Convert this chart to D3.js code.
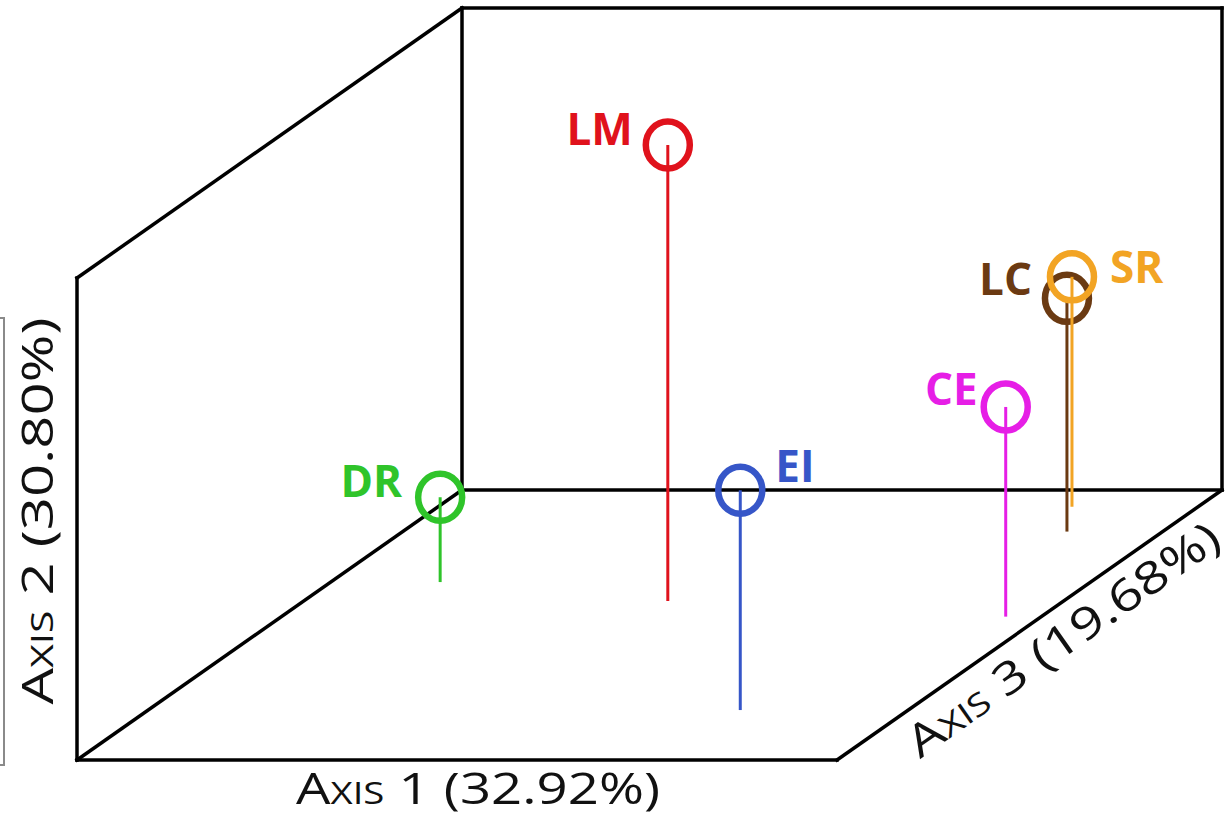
<!DOCTYPE html>
<html>
<head>
<meta charset="utf-8">
<script src="https://cdn.jsdelivr.net/npm/d3@7"></script>
<style>
  html, body { margin: 0; padding: 0; background: #fff; }
  svg { display: block; }
</style>
</head>
<body>
<svg id="chart" width="1229" height="818"></svg>
<script>
// Ordination scores of each site on the first three axes
const sites  = ["DR", "LM", "EI", "CE", "LC", "SR"];
const axis1  = [-0.356, -0.021, 0.279, 0.453, 0.374, 0.334];
const axis2  = [-0.324, 0.446, -0.044, -0.065, -0.016, -0.023];
const axis3  = [0.159, 0.089, -0.315, 0.031, 0.346, 0.438];
const colors = ["#2fc42a", "#e0121c", "#3656c8", "#e61ee6", "#6b3a12", "#f2a424"];
const axisTitles = ["Axis 1 (32.92%)", "Axis 2 (30.80%)", "Axis 3 (19.68%)"];

// label placement relative to each point: [dx, dy, anchor]
const labelPos = [
  [-38, 0, "end"], [-35, 0, "end"], [35, -8, "start"],
  [-28, -2, "end"], [-35, -3, "end"], [38, 6, "start"]
];

const svg = d3.select("#chart");
const W = 760, H = 482, DX = 385, DY = -270, OX = 77, OY = 760;

const xs = d3.scaleLinear().domain([-0.5, 0.5]).range([0, W]);
const ys = d3.scaleLinear().domain([-0.5, 0.5]).range([0, H]);
const zs = d3.scaleLinear().domain([-0.5, 0.5]).range([0, 1]);

// oblique projection of a 3D score onto the page
function project(a, b, c) {
  return [OX + xs(a) + zs(c) * DX, OY - ys(b) + zs(c) * DY];
}

const lo = -0.5, hi = 0.5;
const edges = [
  [[lo, lo, lo], [lo, hi, lo]],   // front left vertical
  [[lo, lo, lo], [hi, lo, lo]],   // front bottom
  [[lo, hi, lo], [lo, hi, hi]],   // upper left depth edge
  [[lo, lo, lo], [lo, lo, hi]],   // lower left depth edge
  [[hi, lo, lo], [hi, lo, hi]],   // lower right depth edge
  [[lo, hi, hi], [hi, hi, hi]],   // back top
  [[lo, lo, hi], [lo, hi, hi]],   // back left
  [[lo, lo, hi], [hi, lo, hi]],   // back bottom
  [[hi, lo, hi], [hi, hi, hi]]    // back right
];

svg.append("g").selectAll("line").data(edges).join("line")
  .attr("x1", d => project(...d[0])[0]).attr("y1", d => project(...d[0])[1])
  .attr("x2", d => project(...d[1])[0]).attr("y2", d => project(...d[1])[1])
  .attr("stroke", "#000").attr("stroke-width", 3.5).attr("stroke-linecap", "square");

// bracket at the left margin
svg.append("path")
  .attr("d", "M0,318 H4 V765 H0")
  .attr("fill", "none").attr("stroke", "#8a8a8a").attr("stroke-width", 2);

const pts = sites.map((s, i) => ({
  name: s, color: colors[i],
  top: project(axis1[i], axis2[i], axis3[i]),
  floor: project(axis1[i], lo, axis3[i]),
  lab: labelPos[i]
}));

const g = svg.append("g");
const pg = g.selectAll("g").data(pts).join("g");

pg.append("line")
  .attr("x1", d => d.top[0]).attr("y1", d => d.top[1])
  .attr("x2", d => d.floor[0]).attr("y2", d => d.floor[1])
  .attr("stroke", d => d.color).attr("stroke-width", 3);

pg.append("ellipse")
  .attr("cx", d => d.top[0]).attr("cy", d => d.top[1])
  .attr("rx", 22).attr("ry", 23.5)
  .attr("fill", "none").attr("stroke", d => d.color).attr("stroke-width", 6.5);

pg.append("text")
  .attr("x", d => d.top[0] + d.lab[0]).attr("y", d => d.top[1] + d.lab[1])
  .attr("text-anchor", d => d.lab[2])
  .attr("fill", d => d.color)
  .attr("font-family", "'Open Sans', sans-serif")
  .attr("font-weight", 700).attr("font-size", 44)
  .text(d => d.name);

// axis titles
const titleStyle = sel => sel
  .attr("font-family", "'Open Sans', sans-serif")
  .attr("font-size", 44).attr("fill", "#111")
  .style("font-variant", "small-caps")
  .attr("text-anchor", "middle");

svg.append("text").call(titleStyle)
  .attr("x", 478).attr("y", 804)
  .attr("textLength", 364).attr("lengthAdjust", "spacingAndGlyphs")
  .text(axisTitles[0]);

svg.append("text").call(titleStyle)
  .attr("transform", "translate(53,511) rotate(-90)")
  .attr("textLength", 387).attr("lengthAdjust", "spacingAndGlyphs")
  .text(axisTitles[1]);

svg.append("text").call(titleStyle)
  .attr("transform", "translate(1072,652) rotate(-35.2)")
  .attr("textLength", 372).attr("lengthAdjust", "spacingAndGlyphs")
  .text(axisTitles[2]);
</script>
</body>
</html>
